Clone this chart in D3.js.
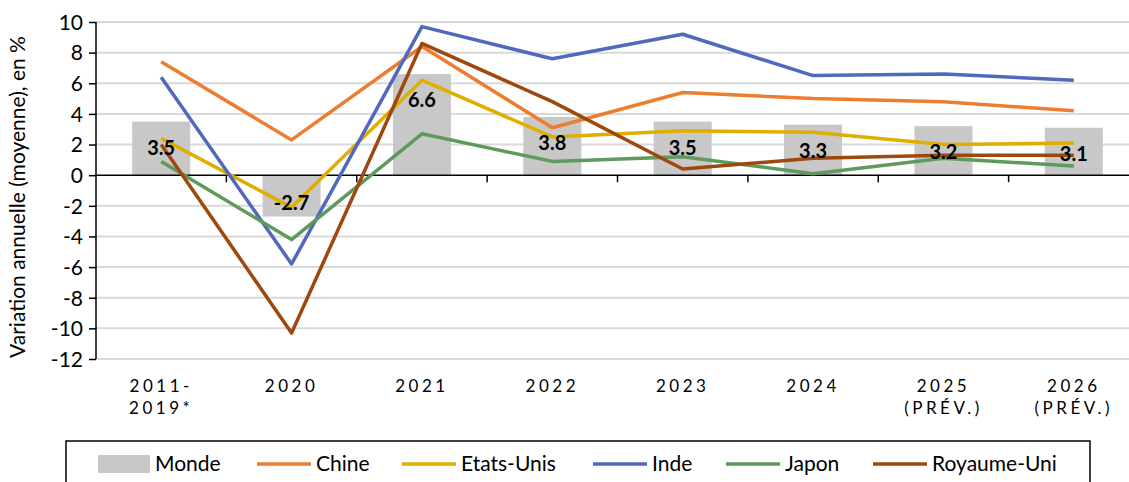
<!DOCTYPE html>
<html><head><meta charset="utf-8">
<script src="https://cdn.jsdelivr.net/npm/d3@7"></script>
<style>body{margin:0;background:#fff}svg{display:block}text{font-family:Lato,"Open Sans",sans-serif}</style>
</head><body><svg id="c" width="1129" height="482"></svg>
<script>
const categories = ["2011-|2019*","2020","2021","2022","2023","2024","2025|(PRÉV.)","2026|(PRÉV.)"];
const monde     = [3.5, -2.7, 6.6, 3.8, 3.5, 3.3, 3.2, 3.1];
const chine     = [7.4, 2.3, 8.4, 3.1, 5.4, 5.0, 4.8, 4.2];
const etatsUnis = [2.4, -2.1, 6.2, 2.5, 2.9, 2.8, 2.0, 2.1];
const inde      = [6.4, -5.8, 9.7, 7.6, 9.2, 6.5, 6.6, 6.2];
const japon     = [0.9, -4.2, 2.7, 0.9, 1.2, 0.1, 1.1, 0.6];
const royaumeUni= [2.0, -10.3, 8.6, 4.8, 0.4, 1.1, 1.3, 1.3];
const yTicks = [-12,-10,-8,-6,-4,-2,0,2,4,6,8,10];
const seriesNames = ["Chine","Etats-Unis","Inde","Japon","Royaume-Uni"];
const seriesData = [chine, etatsUnis, inde, japon, royaumeUni];
const seriesColors = ["#ED7D31","#DFAE00","#5068BE","#5E9A5C","#9E480E"];

const svg = d3.select("#c");
const x = d3.scaleBand().domain(d3.range(categories.length)).range([96, 1139]).paddingInner(0).paddingOuter(0);
const y = d3.scaleLinear().domain([-12, 10]).range([359, 22]);

// grid
svg.append("g").selectAll("line").data(yTicks.filter(d=>d!==0)).join("line")
  .attr("x1", 96).attr("x2", 1129).attr("y1", d=>y(d)).attr("y2", d=>y(d))
  .attr("stroke", "#d9d9d9").attr("stroke-width", 2);

// bars
const bw = x.bandwidth()*0.445;
svg.append("g").selectAll("rect").data(monde).join("rect")
  .attr("x", (d,i)=>x(i)+x.bandwidth()/2-bw/2).attr("width", bw)
  .attr("y", d=>y(Math.max(0,d))).attr("height", d=>Math.abs(y(d)-y(0)))
  .attr("fill", "#C8C8C8");

// x axis at 0
const xAxis = svg.append("g").attr("transform", `translate(0,${y(0)})`);
xAxis.append("line").attr("x1",96).attr("x2",1129).attr("stroke","#000").attr("stroke-width",1.5);
xAxis.selectAll("line.t").data(d3.range(1,categories.length)).join("line").attr("class","t")
  .attr("x1", d=>x(d)).attr("x2", d=>x(d)).attr("y1",0).attr("y2",7).attr("stroke","#000").attr("stroke-width",1.5);

// y axis
const yAxis = d3.axisLeft(y).tickValues(yTicks).tickSize(7).tickFormat(d3.format("d"));
const ya = svg.append("g").attr("transform","translate(96,0)").call(yAxis);
ya.select(".domain").attr("stroke","#000").attr("stroke-width",1.5).attr("d","M0,"+y(10)+"V"+y(-12));
ya.selectAll(".tick line").attr("stroke","#000").attr("stroke-width",1.5);
ya.selectAll(".tick text").attr("font-size",21).attr("fill","#000").attr("x",-13).attr("dy","0.35em")
  .style("font-family","Lato,sans-serif").text(d=>String(d).replace("\u2212","-"));

// lines
const line = d3.line().x((d,i)=>x(i)+x.bandwidth()/2).y(d=>y(d));
svg.append("g").selectAll("path").data(seriesData).join("path")
  .attr("d", line).attr("fill","none").attr("stroke",(d,i)=>seriesColors[i])
  .attr("stroke-width",3.5).attr("stroke-linejoin","round");

// data labels
svg.append("g").selectAll("text").data(monde).join("text")
  .attr("x",(d,i)=>x(i)+x.bandwidth()/2)
  .attr("y", d=> d>=0 ? y(d)+26 : y(d)-14)
  .attr("dy","0.35em").attr("text-anchor","middle").attr("font-weight","bold").attr("font-size",20)
  .attr("fill","#000").text(d=>d.toFixed(1));

// x labels
const xl = svg.append("g").selectAll("text").data(categories).join("text")
  .attr("x",(d,i)=>x(i)+x.bandwidth()/2).attr("y",392)
  .attr("text-anchor","middle").attr("font-size",17).attr("letter-spacing","3.5px").attr("fill","#000");
xl.each(function(d){
  const parts = d.split("|");
  const t = d3.select(this);
  parts.forEach((p,k)=>t.append("tspan").attr("x",t.attr("x")).attr("dy",k?22:0).text(p));
});

// y title
svg.append("text").attr("transform","translate(25,197) rotate(-90)").attr("text-anchor","middle")
  .attr("font-size",21).attr("fill","#000").text("Variation annuelle (moyenne), en %");

// legend
const lg = svg.append("g");
lg.append("rect").attr("x",66).attr("y",441).attr("width",1024).attr("height",60)
  .attr("fill","none").attr("stroke","#000").attr("stroke-width",1.5);
const ly = 464;
lg.append("rect").attr("x",98).attr("y",ly-9).attr("width",52).attr("height",18).attr("fill","#C8C8C8");
lg.append("text").attr("x",155).attr("y",ly).attr("dy","0.35em").attr("font-size",21).text("Monde");
const legX = [257, 402, 593, 726, 873];
seriesNames.forEach((n,i)=>{
  lg.append("line").attr("x1",legX[i]).attr("x2",legX[i]+54).attr("y1",ly).attr("y2",ly)
    .attr("stroke",seriesColors[i]).attr("stroke-width",3.5);
  lg.append("text").attr("x",legX[i]+59).attr("y",ly).attr("dy","0.35em").attr("font-size",21).text(n);
});
</script></body></html>
